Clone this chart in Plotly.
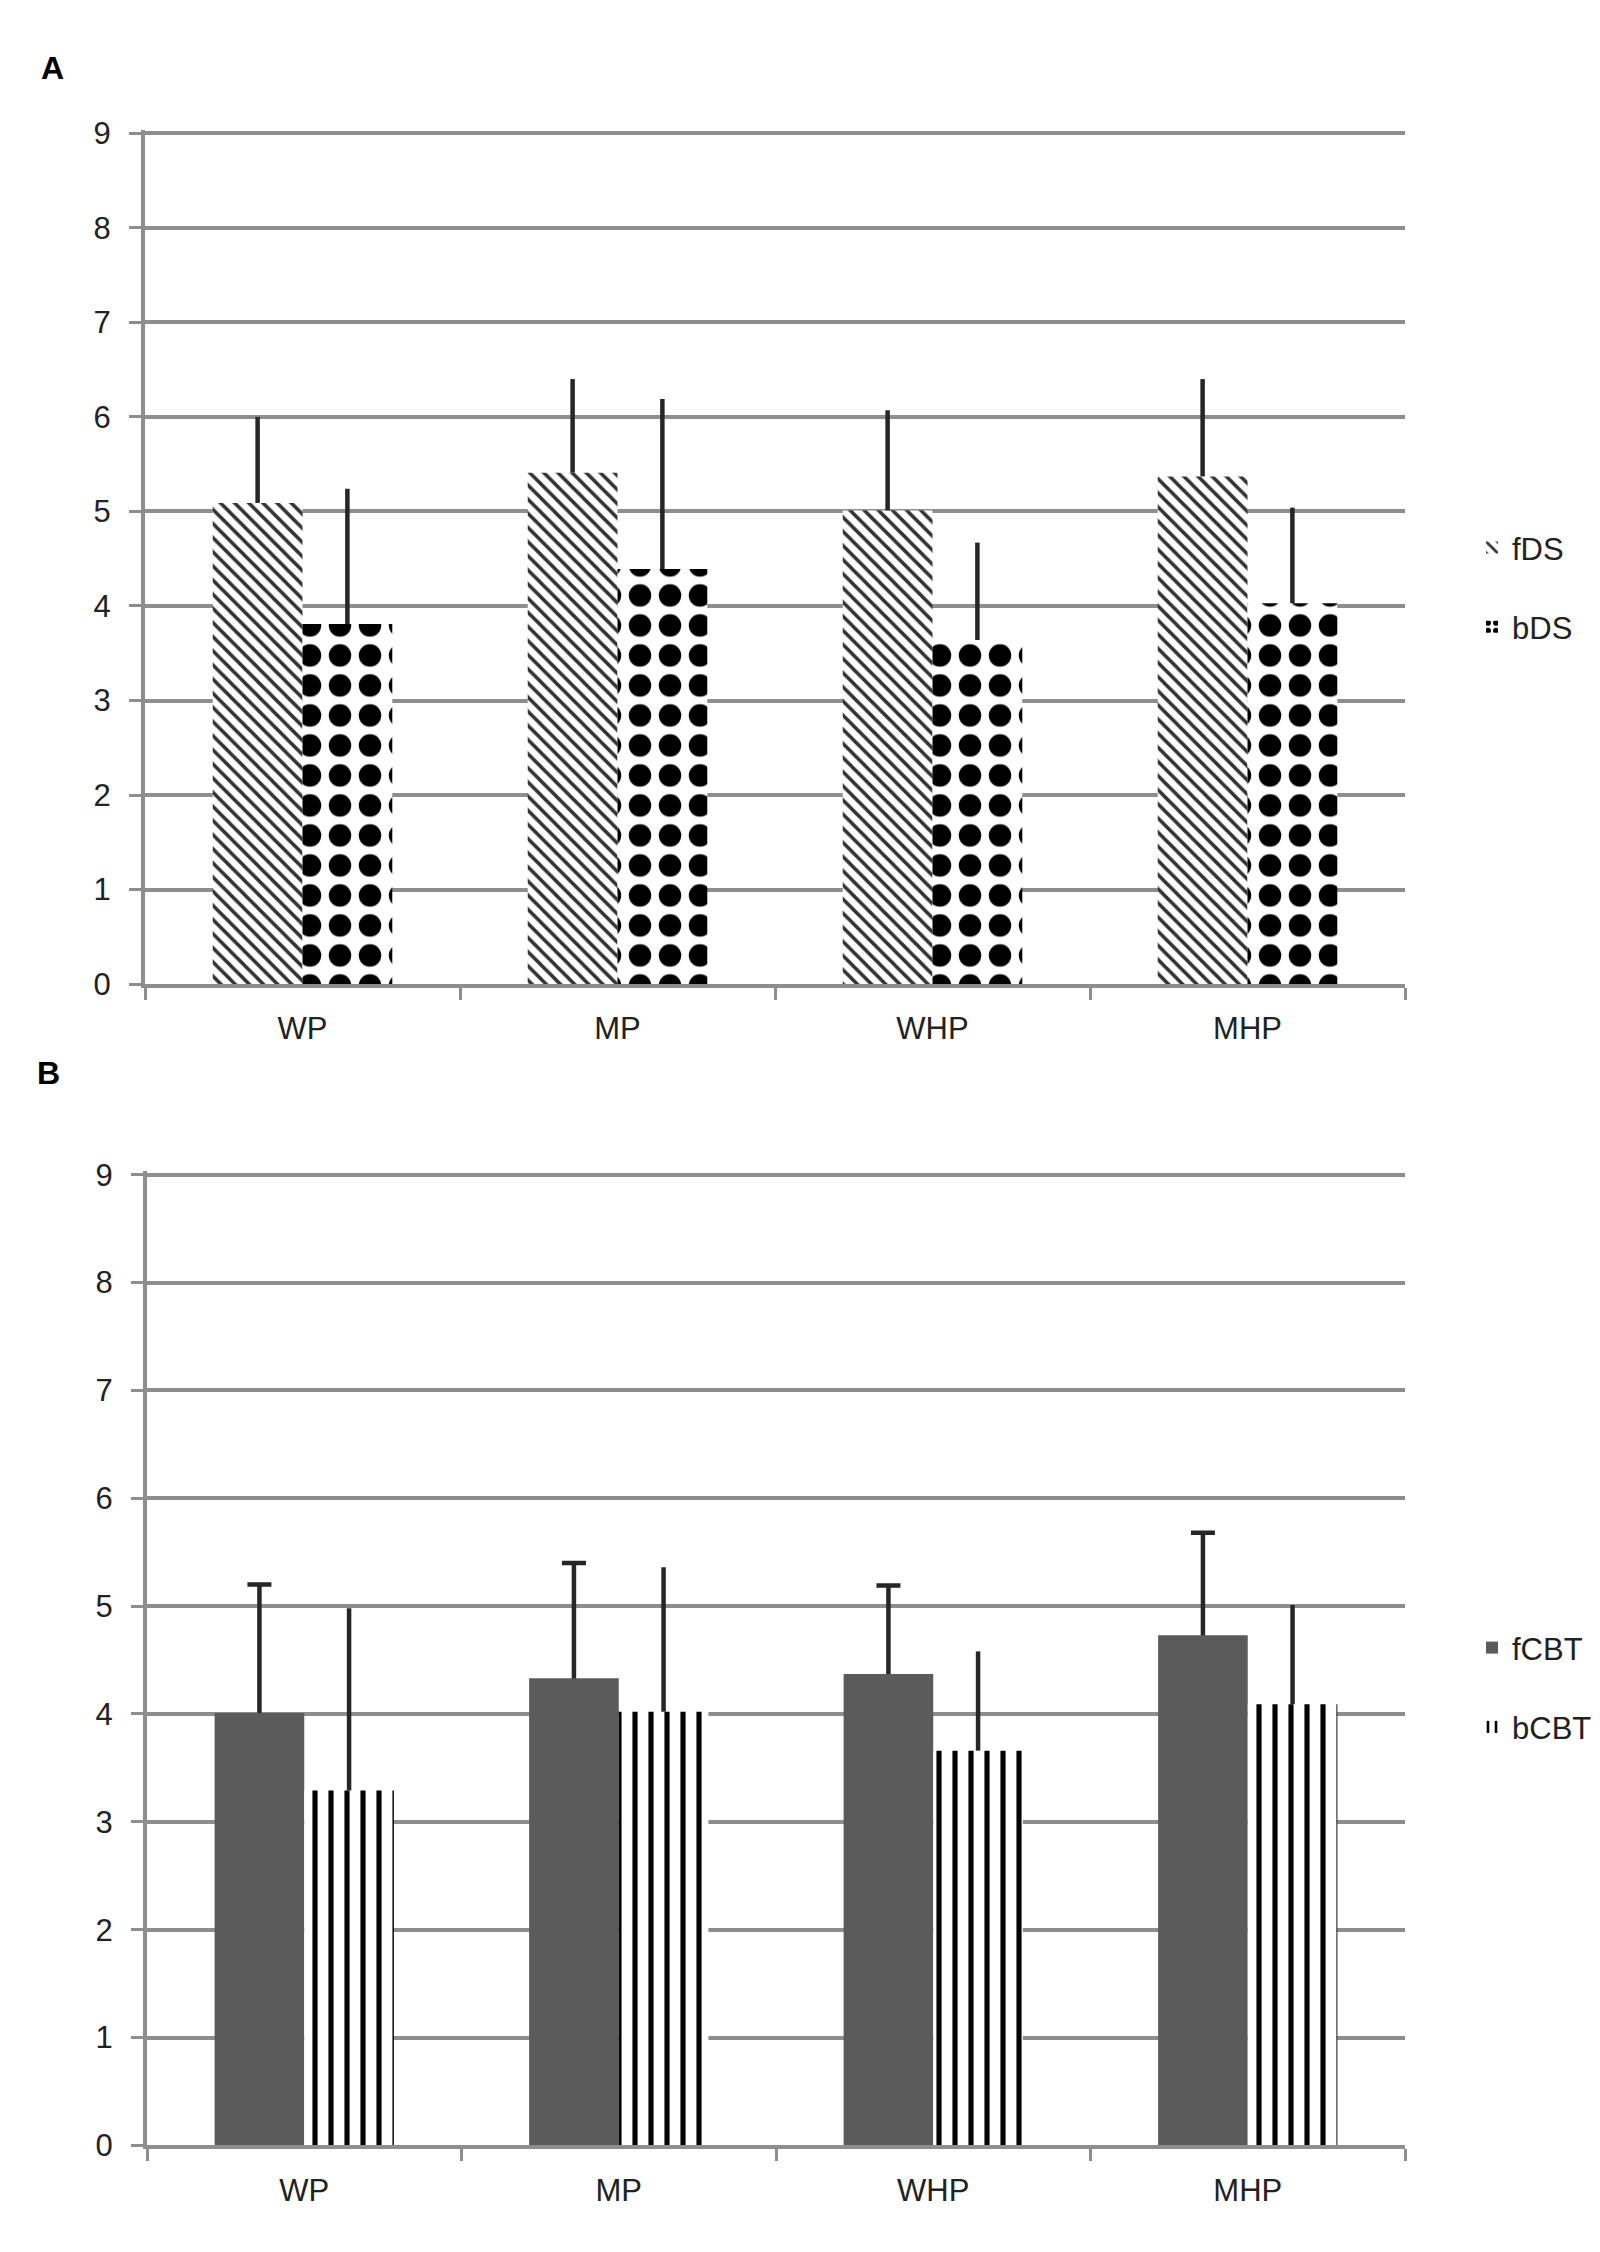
import plotly.graph_objects as go

# group labels on the x axis
categories = ["WP", "MP", "WHP", "MHP"]

# panel A: digit span
fds = [5.09, 5.41, 5.01, 5.37]
fds_err = [0.91, 0.99, 1.06, 1.03]
bds = [3.81, 4.39, 3.64, 4.03]
bds_err = [1.43, 1.80, 1.03, 1.01]

# panel B: Corsi block-tapping
fcbt = [4.01, 4.33, 4.37, 4.73]
fcbt_err = [1.19, 1.07, 0.82, 0.95]
bcbt = [3.29, 4.02, 3.66, 4.09]
bcbt_err = [1.69, 1.34, 0.92, 0.92]

y_ticks = list(range(0, 10))

FONT = "Liberation Sans, Arial, sans-serif"
GRID = "#8e8e8e"
ERR = "#262626"
BW = 0.285  # bar width in category units


def err_bar(vals, minus, cap):
    return dict(type="data", symmetric=False, array=vals, arrayminus=minus,
                color=ERR, thickness=4.5, width=cap)


fig = go.Figure()

# panel A
fig.add_trace(go.Bar(
    x=categories, y=fds, name="fDS", xaxis="x", yaxis="y",
    offset=-BW, width=BW, legend="legend", legendgroup="fds",
    marker=dict(color="white", line=dict(width=0),
                pattern=dict(shape="\\", fgcolor="#333", bgcolor="white",
                             fgopacity=1, size=10, solidity=0.35)),
    error_y=err_bar(fds_err, [0] * 4, 0)))
fig.add_trace(go.Bar(
    x=categories, y=bds, name="bDS", xaxis="x", yaxis="y",
    offset=0, width=BW, legend="legend", legendgroup="bds",
    marker=dict(color="white", line=dict(width=0),
                pattern=dict(shape=".", fgcolor="black", bgcolor="white",
                             fgopacity=1, size=30, solidity=0.44)),
    error_y=err_bar(bds_err, [0] * 4, 0)))

# panel B: the capped fCBT error bars sit in a hidden trace drawn under the bars
fig.add_trace(go.Bar(
    x=categories, y=fcbt, xaxis="x2", yaxis="y2", offset=-BW, width=BW,
    legend="legend2", legendgroup="fcbt", showlegend=False, hoverinfo="skip",
    marker=dict(color="rgba(0,0,0,0)", line=dict(width=0)),
    error_y=err_bar(fcbt_err, fcbt, 12)))
fig.add_trace(go.Bar(
    x=categories, y=fcbt, name="fCBT", xaxis="x2", yaxis="y2",
    offset=-BW, width=BW, legend="legend2", legendgroup="fcbt",
    marker=dict(color="#5b5b5b", line=dict(width=0))))
fig.add_trace(go.Bar(
    x=categories, y=bcbt, name="bCBT", xaxis="x2", yaxis="y2",
    offset=0, width=BW, legend="legend2", legendgroup="bcbt",
    marker=dict(color="white", line=dict(width=0),
                pattern=dict(shape="|", fgcolor="black", bgcolor="white",
                             fgopacity=1, size=16, solidity=0.32)),
    error_y=err_bar(bcbt_err, [0] * 4, 0)))

x_common = dict(type="category", showline=True, linecolor=GRID, linewidth=4,
                ticks="outside", tickson="boundaries", ticklen=12,
                tickwidth=3, tickcolor=GRID, showgrid=False,
                tickfont=dict(family=FONT, size=31, color="#222"),
                ticklabelstandoff=14)
y_common = dict(range=[0, 9.03], tickvals=y_ticks, showline=True,
                linecolor=GRID, linewidth=4, ticks="outside", ticklen=12,
                tickwidth=3, tickcolor=GRID, showgrid=True, gridcolor=GRID,
                gridwidth=4, zeroline=False,
                tickfont=dict(family=FONT, size=31, color="#222"),
                ticklabelstandoff=12)

legend_common = dict(xanchor="left", yanchor="top", bgcolor="rgba(0,0,0,0)",
                     font=dict(family=FONT, size=31, color="#222"),
                     traceorder="grouped", tracegroupgap=36, itemwidth=30)

fig.update_layout(
    width=1600, height=2252,
    margin=dict(l=0, r=0, t=0, b=0),
    paper_bgcolor="white", plot_bgcolor="white",
    barmode="overlay",
    showlegend=True,
    xaxis=dict(domain=[137 / 1600, 1397 / 1600], anchor="y", **x_common),
    yaxis=dict(domain=[1 - 976 / 2252, 1 - 110 / 2252], anchor="x", **y_common),
    xaxis2=dict(domain=[139 / 1600, 1397 / 1600], anchor="y2", **x_common),
    yaxis2=dict(domain=[1 - 2154 / 2252, 1 - 1166 / 2252], anchor="x2", **y_common),
    legend=dict(x=1464 / 1600, y=1 - 506 / 2252, **legend_common),
    legend2=dict(x=1464 / 1600, y=1 - 1622 / 2252, **legend_common),
    annotations=[
        dict(text="<b>A</b>", x=44 / 1600, y=1 - 47 / 2252, xref="paper",
             yref="paper", showarrow=False, xanchor="center", yanchor="middle",
             font=dict(family=FONT, size=32, color="black")),
        dict(text="<b>B</b>", x=40 / 1600, y=1 - 1066 / 2252, xref="paper",
             yref="paper", showarrow=False, xanchor="center", yanchor="middle",
             font=dict(family=FONT, size=32, color="black")),
    ],
)

fig.write_html("out.html")
